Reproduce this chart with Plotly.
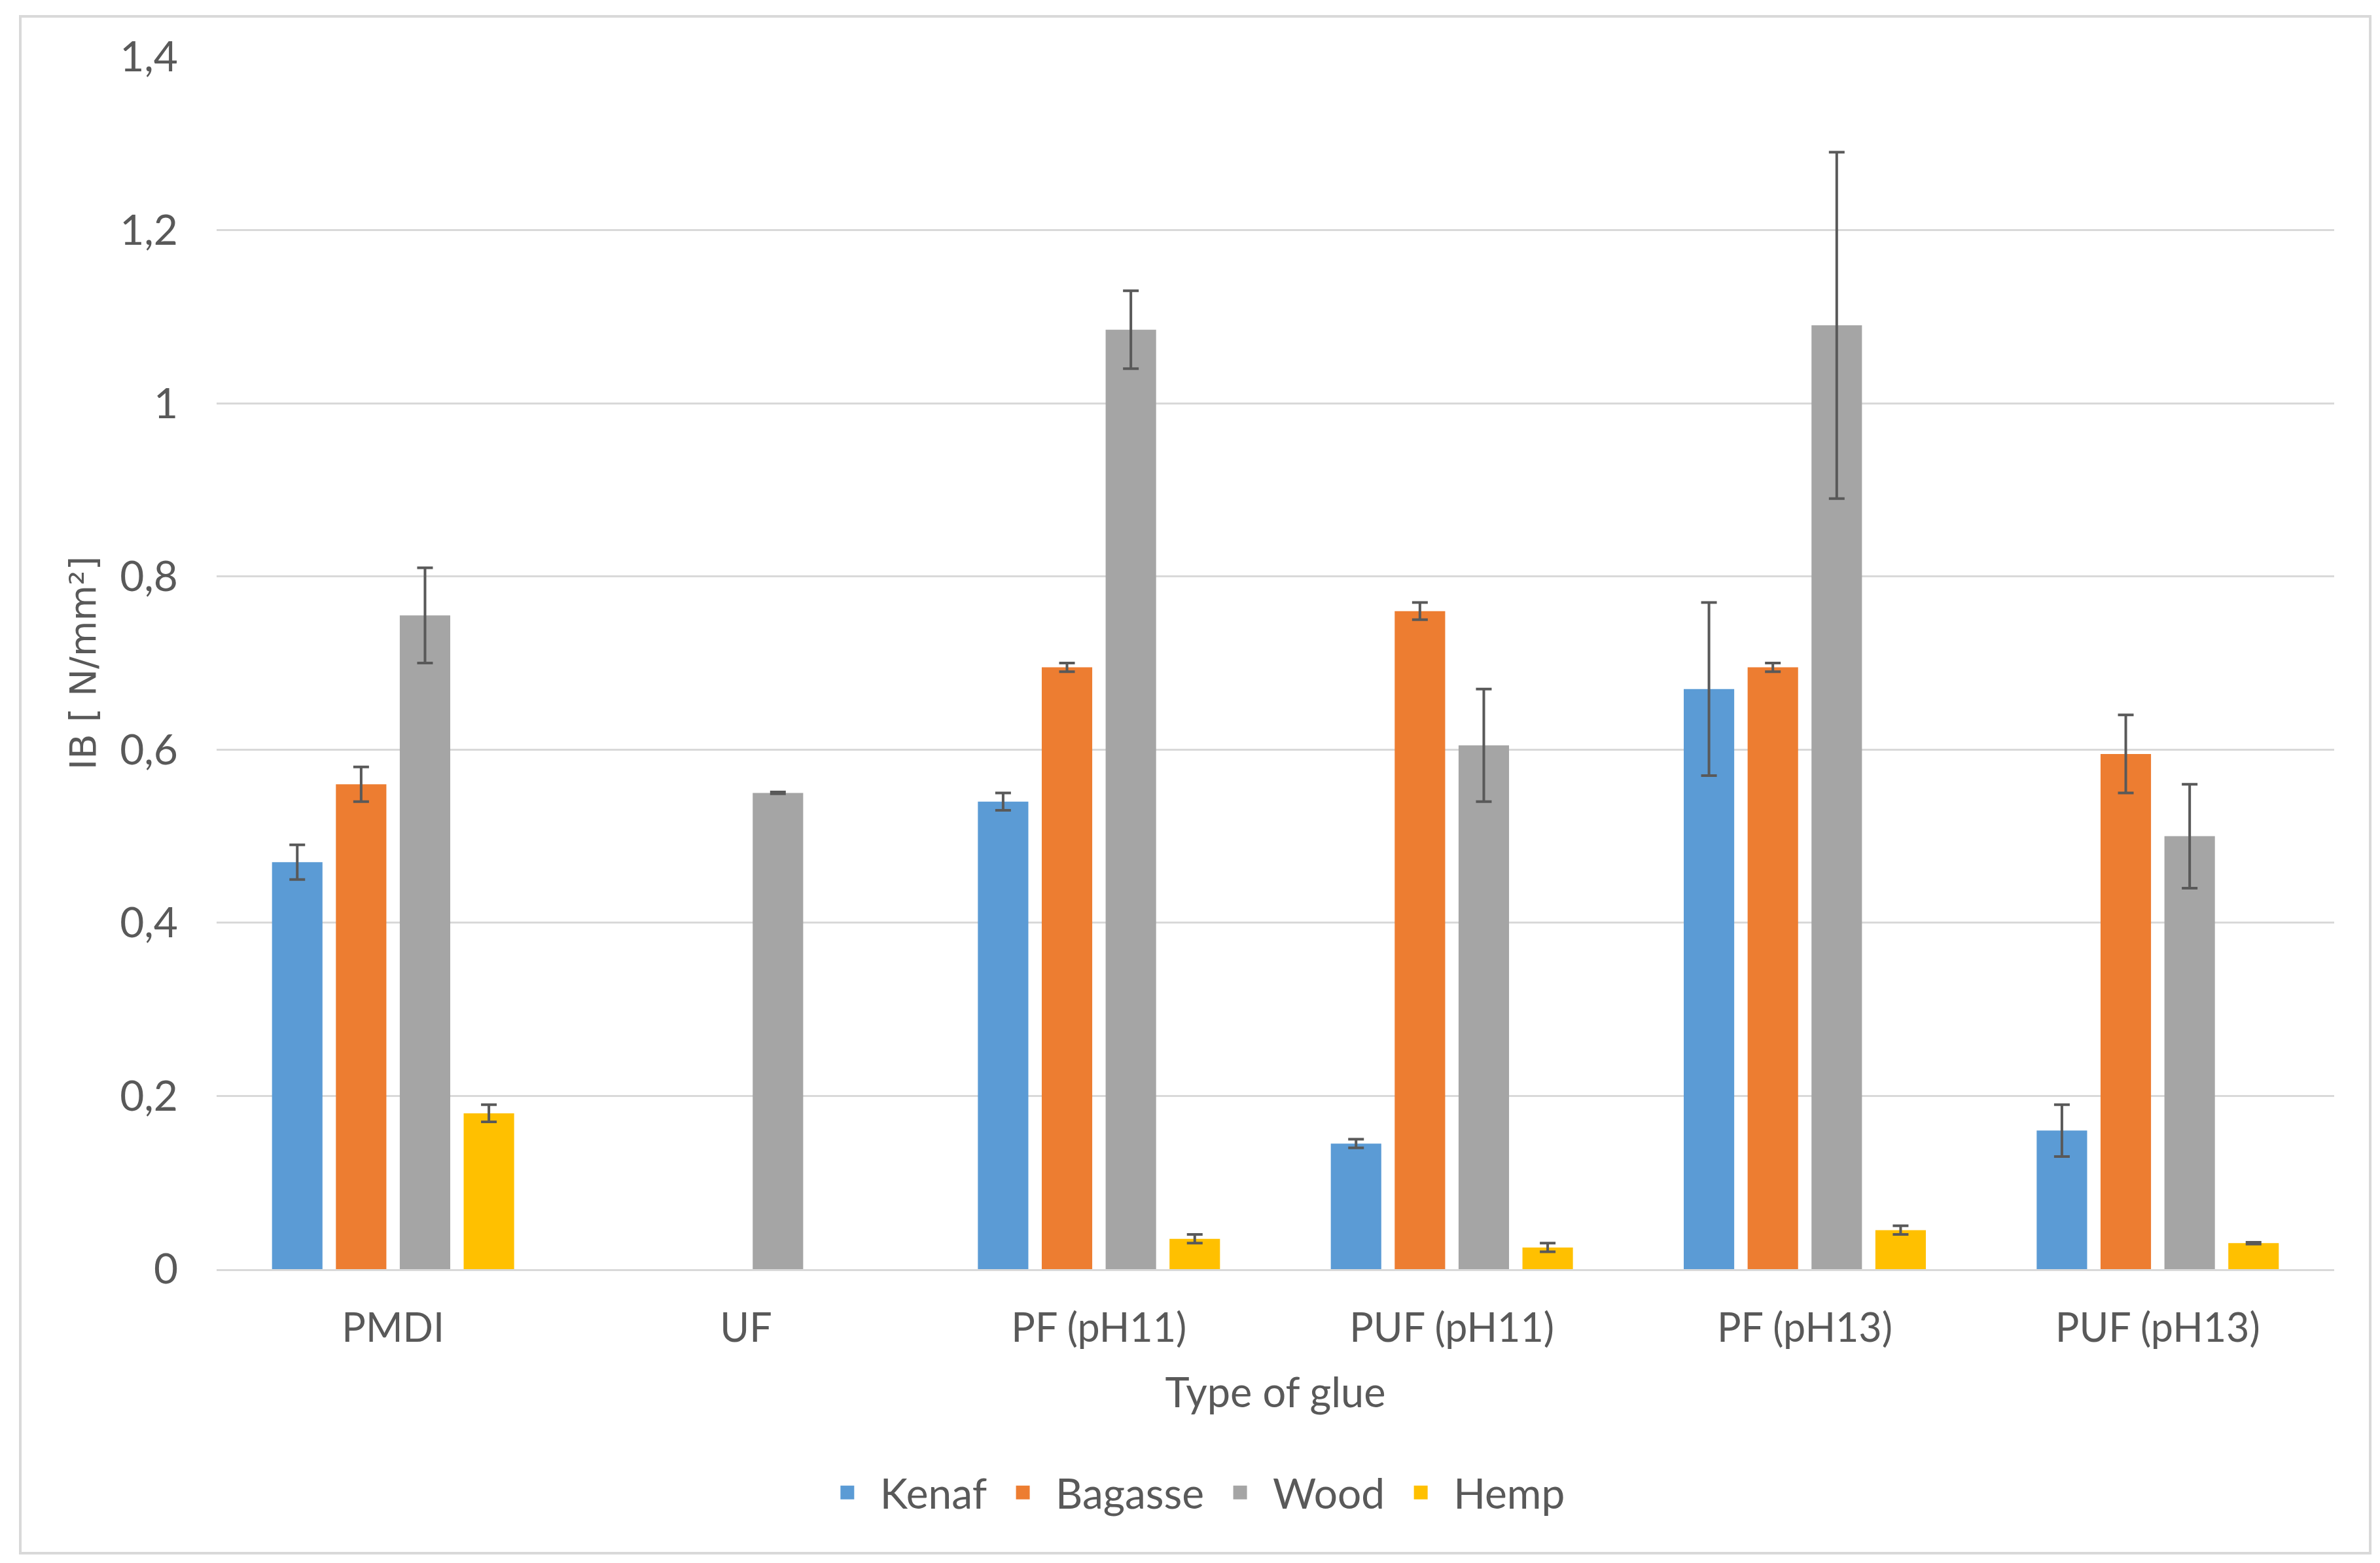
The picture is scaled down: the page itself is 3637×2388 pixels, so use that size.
import plotly.graph_objects as go

# IB values per glue type
glues = ["PMDI", "UF", "PF (pH11)", "PUF (pH11)", "PF (pH13)", "PUF (pH13)"]

kenaf = [0.47, None, 0.54, 0.145, 0.67, 0.16]
kenaf_err = [0.02, None, 0.01, 0.005, 0.10, 0.03]

bagasse = [0.56, None, 0.695, 0.76, 0.695, 0.595]
bagasse_err = [0.02, None, 0.005, 0.01, 0.005, 0.045]

wood = [0.755, 0.55, 1.085, 0.605, 1.09, 0.50]
wood_err = [0.055, 0.001, 0.045, 0.065, 0.20, 0.06]

hemp = [0.18, None, 0.035, 0.025, 0.045, 0.03]
hemp_err = [0.01, None, 0.005, 0.005, 0.005, 0.001]

series = [
    ("Kenaf", kenaf, kenaf_err, "#5B9BD5"),
    ("Bagasse", bagasse, bagasse_err, "#ED7D31"),
    ("Wood", wood, wood_err, "#A5A5A5"),
    ("Hemp", hemp, hemp_err, "#FFC000"),
]

text_color = "#595959"
grid_color = "#D9D9D9"

fig = go.Figure()
for name, vals, errs, color in series:
    fig.add_trace(go.Bar(
        name=name,
        x=glues,
        y=vals,
        legendgroup=name,
        showlegend=False,
        marker=dict(color=color, line=dict(width=0)),
        error_y=dict(type="data", array=errs, visible=True,
                     color=text_color, thickness=4, width=12),
    ))

# legend entries with bigger squares than the bar legend icon
for name, vals, errs, color in series:
    fig.add_trace(go.Scatter(
        name=name,
        x=[None],
        y=[None],
        mode="markers",
        legendgroup=name,
        marker=dict(symbol="square", size=16, color=color,
                    line=dict(color=color, width=5)),
    ))

fig.update_layout(
    width=3637,
    height=2388,
    barmode="group",
    bargap=0.276,
    bargroupgap=0.21,
    separators=", ",
    plot_bgcolor="white",
    paper_bgcolor="white",
    font=dict(family="Lato", size=60, color=text_color),
    margin=dict(l=323, r=78, t=79, b=457),
    xaxis=dict(
        title=dict(text="Type of glue", standoff=44, font=dict(size=63)),
        showgrid=False,
        showline=True,
        linecolor=grid_color,
        linewidth=3,
        ticks="",
        ticklabelstandoff=35,
        tickfont=dict(size=61),
    ),
    yaxis=dict(
        title=dict(text="IB [ N/mm²]", standoff=18,
                   font=dict(family="DejaVu Sans", size=56)),
        range=[0, 1.4],
        dtick=0.2,
        showgrid=True,
        gridcolor=grid_color,
        gridwidth=3,
        zeroline=False,
        showline=False,
        ticks="",
        ticklabelstandoff=58,
        tickfont=dict(size=64),
    ),
    legend=dict(
        orientation="h",
        x=0.4604,
        xanchor="center",
        y=-0.1845,
        yanchor="middle",
        font=dict(size=64),
        traceorder="normal",
        itemwidth=90,
    ),
    shapes=[dict(
        type="rect", xref="paper", yref="paper",
        x0=-0.0927, x1=1.017, y0=-0.2344, y1=1.0335,
        line=dict(color=grid_color, width=4),
    )],
)

fig.write_html("out.html")
